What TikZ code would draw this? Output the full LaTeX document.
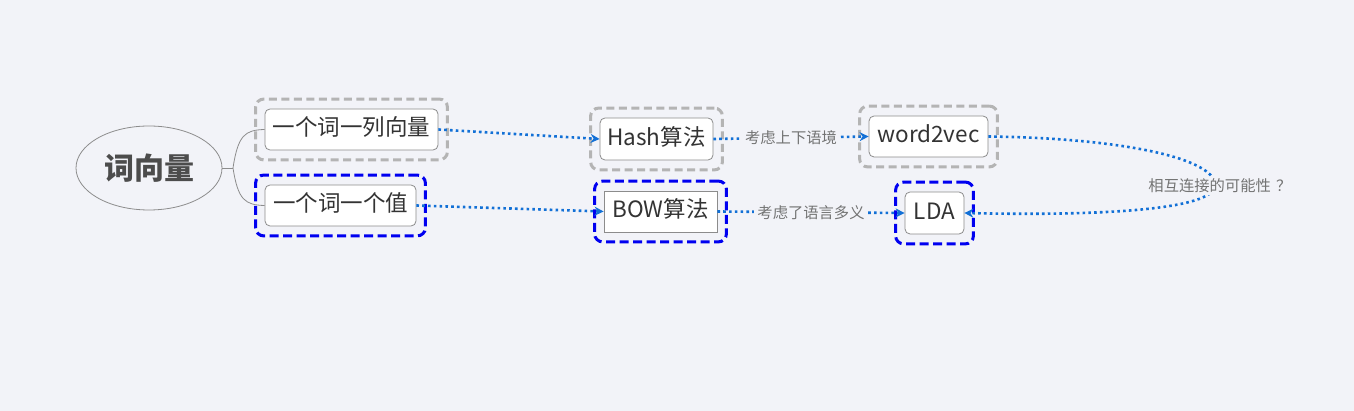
\documentclass[tikz,border=0pt]{standalone}
\usepackage{fontspec}
\setmainfont{Noto Sans CJK SC}
\usetikzlibrary{shapes.geometric,arrows.meta,fit}
\definecolor{bgc}{HTML}{F2F3F8}
\definecolor{linkc}{HTML}{1270D6}
\definecolor{boxline}{HTML}{8C8C8C}
\definecolor{txt}{HTML}{333333}
\definecolor{lbl}{HTML}{737373}
\definecolor{grayd}{HTML}{B4B4B4}
\definecolor{blued}{HTML}{0000F0}
\tikzset{
  topic/.style={draw=boxline, line width=0.8pt, fill=white, rounded corners=5pt, inner sep=0pt,
    text=txt, font=\fontsize{22.5}{26}\selectfont, text height=17pt, text depth=4pt},
  sqtopic/.style={topic, rounded corners=0pt},
  grayframe/.style={draw=grayd, line width=3pt, dash pattern=on 8pt off 4.5pt, rounded corners=8pt, inner xsep=9pt, inner ysep=9.5pt},
  blueframe/.style={draw=blued, line width=3pt, dash pattern=on 9pt off 4.5pt, rounded corners=8pt, inner xsep=9pt, inner ysep=9.5pt},
  link/.style={draw=linkc, line width=2.6pt, dash pattern=on 2.6pt off 3.2pt, -{Stealth[length=9pt,width=9pt,inset=3pt]}},
  linklabel/.style={fill=bgc, text=lbl, font=\fontsize{15.3}{17}\selectfont, inner xsep=3pt, inner ysep=2pt},
  branch/.style={draw=boxline, line width=0.8pt}
}
\begin{document}
\begin{tikzpicture}[x=1pt,y=-1pt]
\fill[bgc] (0,0) rectangle (1354,411);
\useasboundingbox (0,0) rectangle (1354,411);

\node[ellipse, draw=boxline, line width=0.8pt, minimum width=146pt, minimum height=84pt, inner sep=0pt,
  text=black!70, font=\fontsize{30}{33}\selectfont\bfseries] (root) at (149,168) {词向量};

\node[topic, minimum width=173pt, minimum height=41pt] (a1) at (351.5,129.5) {一个词一列向量};
\node[topic, minimum width=151pt, minimum height=41pt] (a2) at (340.5,205.5) {一个词一个值};
\node[topic, minimum width=113pt, minimum height=42pt] (hash) at (656.5,139) {Hash算法};
\node[topic, minimum width=119pt, minimum height=41pt] (w2v) at (928.5,136.5) {word2vec};
\node[sqtopic, minimum width=113pt, minimum height=41pt] (bow) at (660.5,211.5) {BOW算法};
\node[topic, minimum width=59pt, minimum height=42pt] (lda) at (934.5,213) {LDA};

\node[grayframe, fit=(a1)] (fa1) {};
\node[blueframe, fit=(a2)] (fa2) {};
\node[grayframe, fit=(hash)] (fhash) {};
\node[grayframe, fit=(w2v)] (fw2v) {};
\node[blueframe, fit=(bow)] (fbow) {};
\node[blueframe, fit=(lda)] (flda) {};

\coordinate (fork) at (233,168);
\draw[branch] (root.east) -- (fork);
\draw[branch] (fork) .. controls (238,135) and (245,130) .. (a1.west);
\draw[branch] (fork) .. controls (238,200) and (245,205) .. (a2.west);

\draw[link] (a1.east) -- (hash.west);
\draw[link] (a2.east) -- (bow.west);
\draw[link] (hash.east) -- node[linklabel] {考虑上下语境} (w2v.west);
\draw[link] (bow.east) -- node[linklabel] {考虑了语言多义} (lda.west);

\coordinate (mid) at (1215,185);
\draw[link] (w2v.east) .. controls (1120,138) and (1215,158) .. (mid)
  .. controls (1215,210) and (1100,216) .. (lda.east);
\node[linklabel] (q) at (1220,186) {相互连接的可能性\hspace{0.35em}？};
\end{tikzpicture}
\end{document}
